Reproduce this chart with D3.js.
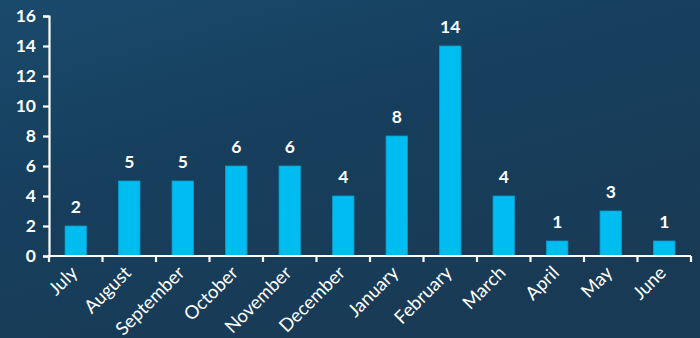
<!DOCTYPE html>
<html>
<head>
<meta charset="utf-8">
<script src="https://cdn.jsdelivr.net/npm/d3@7"></script>
<style>
  html, body { margin: 0; padding: 0; background: #173d5a; }
  svg { display: block; }
</style>
</head>
<body>
<svg id="chart" width="700" height="338"></svg>
<script>
// Monthly counts, July through June
const months = ["July", "August", "September", "October", "November", "December",
                "January", "February", "March", "April", "May", "June"];
const counts = [2, 5, 5, 6, 6, 4, 8, 14, 4, 1, 3, 1];
const yTicks = [0, 2, 4, 6, 8, 10, 12, 14, 16];

const width = 700, height = 338;
const margin = { top: 16, right: 9, bottom: 82, left: 49 };

const svg = d3.select("#chart");

// background gradient
const defs = svg.append("defs");
const grad = defs.append("linearGradient")
  .attr("id", "bg").attr("x1", "0").attr("y1", "0").attr("x2", "0.6").attr("y2", "1");
grad.append("stop").attr("offset", "0%").attr("stop-color", "#1a4a6c");
grad.append("stop").attr("offset", "45%").attr("stop-color", "#163f5d");
grad.append("stop").attr("offset", "100%").attr("stop-color", "#193a55");
svg.append("rect").attr("width", width).attr("height", height).attr("fill", "url(#bg)");

const x = d3.scaleBand()
  .domain(months)
  .range([margin.left, width - margin.right])
  .paddingInner(0.6)
  .paddingOuter(0.3);

const y = d3.scaleLinear()
  .domain([0, 16])
  .range([height - margin.bottom, margin.top]);

// bars
svg.append("g").selectAll("rect")
  .data(months)
  .join("rect")
  .attr("x", d => x(d))
  .attr("width", x.bandwidth())
  .attr("y", (d, i) => y(counts[i]))
  .attr("height", (d, i) => y(0) - y(counts[i]))
  .attr("fill", "#00bdf1")
  .attr("stroke", "#0a9ccc")
  .attr("stroke-width", 0.8);

// value labels
svg.append("g").selectAll("text")
  .data(months)
  .join("text")
  .attr("x", d => x(d) + x.bandwidth() / 2)
  .attr("y", (d, i) => y(counts[i]) - 13)
  .attr("text-anchor", "middle")
  .attr("fill", "#ffffff")
  .attr("font-family", "Lato, 'Open Sans', sans-serif")
  .attr("font-weight", "bold")
  .attr("font-size", 17.5)
  .text((d, i) => counts[i]);

// y axis
const yAxis = svg.append("g")
  .attr("transform", `translate(${margin.left},0)`)
  .call(d3.axisLeft(y).tickValues(yTicks).tickSize(6).tickPadding(7).tickSizeOuter(6));
yAxis.selectAll("path, line").attr("stroke", "#ffffff").attr("stroke-width", 2.2);
yAxis.selectAll("text")
  .attr("fill", "#ffffff")
  .attr("font-family", "Lato, 'Open Sans', sans-serif")
  .attr("font-weight", "bold")
  .attr("font-size", 17.5);

// x axis: ticks at the category boundaries
const step = x.step();
const x0 = margin.left;
const boundaries = d3.range(months.length + 1).map(i => x0 + i * step);
const xAxisG = svg.append("g");
xAxisG.append("line")
  .attr("x1", margin.left - 1).attr("x2", width - margin.right)
  .attr("y1", y(0)).attr("y2", y(0))
  .attr("stroke", "#ffffff").attr("stroke-width", 2.2);
xAxisG.selectAll("line.tick")
  .data(boundaries)
  .join("line")
  .attr("class", "tick")
  .attr("x1", d => d).attr("x2", d => d)
  .attr("y1", y(0)).attr("y2", y(0) + 6)
  .attr("stroke", "#ffffff").attr("stroke-width", 2.2);

// month labels, rotated
xAxisG.selectAll("text")
  .data(months)
  .join("text")
  .attr("transform", d => `translate(${x(d) + x.bandwidth() / 2 + 3},${y(0) + 18}) rotate(-45)`)
  .attr("text-anchor", "end")
  .attr("fill", "#ffffff")
  .attr("font-family", "Lato, 'Open Sans', sans-serif")
  .attr("font-size", 18.5)
  .text(d => d);
</script>
</body>
</html>
